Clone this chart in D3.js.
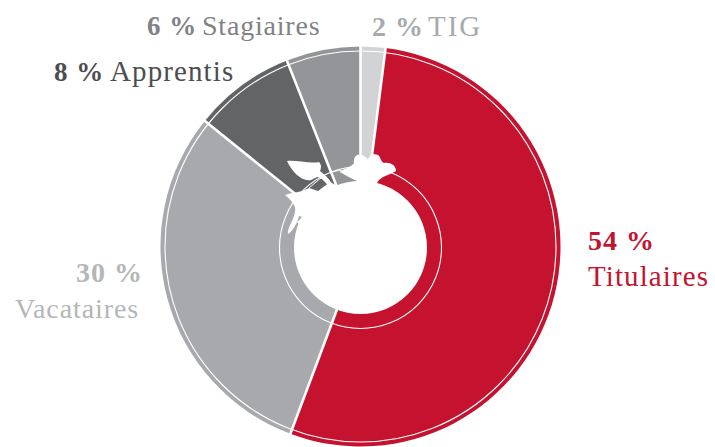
<!DOCTYPE html>
<html><head><meta charset="utf-8">
<script src="https://cdnjs.cloudflare.com/ajax/libs/d3/7.8.5/d3.min.js"></script>
<style>html,body{margin:0;background:#fff}svg{display:block}text{font-family:"Liberation Serif",serif}</style>
</head><body><svg id="c" width="715" height="447"></svg>
<script>
const categories=["TIG","Titulaires","Vacataires","Apprentis","Stagiaires"];
const values=[2,53.7,30.1,8.2,6];
const colors=["#d1d3d4","#c4122f","#a7a9ac","#636466","#939598"];
const percentLabels=["2 %","54 %","30 %","8 %","6 %"];
const labelColors=["#a7a9ac","#c4122f","#b4b6b8","#4d4d4f","#818285"];

const svg=d3.select("#c");
const cx=360.5,cy=246.5;
const g=svg.append("g").attr("transform",`translate(${cx},${cy})`);
const pie=d3.pie().sort(null)(values);
const arc=d3.arc().innerRadius(60).outerRadius(200);
g.selectAll("path.s").data(pie).join("path").attr("class","s")
 .attr("d",arc).attr("fill",(d,i)=>colors[i]);
// separators between the slices, taken from the slice angles
g.selectAll("line.sep").data(pie).join("line").attr("class","sep")
 .attr("x1",d=>60*Math.sin(d.startAngle)).attr("y1",d=>-60*Math.cos(d.startAngle))
 .attr("x2",d=>201*Math.sin(d.startAngle)).attr("y2",d=>-201*Math.cos(d.startAngle))
 .attr("stroke","#fff").attr("stroke-width",2.6);
g.append("circle").attr("r",195.5).attr("fill","none").attr("stroke","#fff").attr("stroke-width",1.1);
g.append("circle").attr("cy",1).attr("r",81).attr("fill","none").attr("stroke","#fff").attr("stroke-width",1.1);
g.append("circle").attr("cy",1).attr("r",66.5).attr("fill","#fff");

// tomato calyx decoration
svg.append("path").attr("fill","#fff").attr("d",
"M340 172 C345 168 350 168 354 163 C353 156 358 153 362 155 C365 156 367 158 368 160 C369 155 374 153 378 155 C381 157 380 161 384 163 C390 162 396 165 396 171 C392 174 384 175 378 181 L372 196 L350 196 L357 181 C350 178 345 175 340 172 Z");
svg.append("path").attr("fill","#fff").attr("d",
"M287 161 C296 160 310 164 319 162 C322 165 321 169 320 171 C325 175 329 178 333 186 L329 186 C325 183 323 178 317 177 L311 180 C302 182 292 172 287 161 Z");
svg.append("path").attr("fill","#fff").attr("d",
"M285 195 C294 192 300 193 309 188 L318 191 L330 182 L345 190 L335 215 L312 240 L297 222 L303 217 L299 216 C297 224 292 232 288 234 C287 228 293 222 295 212 C297 206 290 199 285 195 Z");
svg.append("path").attr("fill","none").attr("stroke","#fff").attr("stroke-width",1)
 .attr("d","M309 188 L322 177 M333 172 C338 170 345 170 340 172");

function put(i,psize,px,py,nx,ny,nsize,nsp){
 svg.append("text").attr("x",px).attr("y",py).attr("fill",labelColors[i]).attr("font-weight","bold")
  .style("font-size",psize+"px").style("letter-spacing","1px").text(percentLabels[i]);
 svg.append("text").attr("x",nx).attr("y",ny).attr("fill",labelColors[i])
  .style("font-size",nsize+"px").style("letter-spacing",nsp+"px").text(categories[i]);
}
put(0,28,372,36,428,36,29,2);
put(4,27,147,35,202,35,28,.8);
put(3,27,54,81,110,81,29,1.1);
put(1,28,588,250,588,286,29,1.1);
put(2,28,76,282,15,318,28,.9);
</script></body></html>
